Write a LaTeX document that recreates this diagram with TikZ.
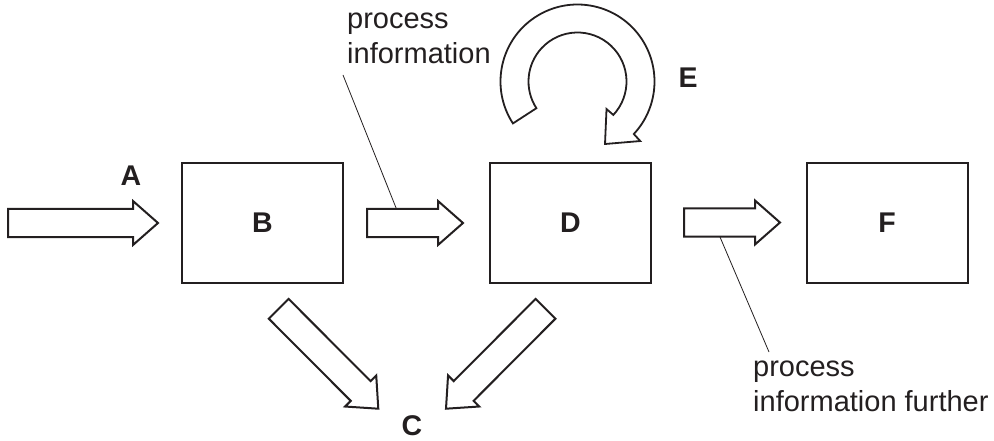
\documentclass[tikz,border=0pt]{standalone}
\usepackage{fontspec}
\setmainfont{Liberation Sans}
\usetikzlibrary{calc}
\definecolor{ink}{HTML}{231F20}
\tikzset{
  box/.style={draw=ink, line width=2pt, minimum width=161pt, minimum height=120pt,
    inner sep=0pt, font=\bfseries\fontsize{28.5}{34}\selectfont, text=ink},
  blk/.style={draw=ink, line width=2pt, fill=white, line join=miter},
  letter/.style={inner sep=0pt, font=\bfseries\fontsize{28.5}{34}\selectfont, text=ink},
  lbl/.style={inner sep=0pt, align=left, font=\fontsize{29}{34.7}\selectfont, text=ink},
  leader/.style={draw=ink, line width=0.8pt},
}
\newcommand\blockarrow[2]{%
  \coordinate (tmpb) at ($(#2)!25pt!(#1)$);
  \draw[blk] ($(#1)!14pt!90:(#2)$) -- ($(tmpb)!14pt!90:(#2)$) -- ($(tmpb)!22pt!90:(#2)$)
    -- (#2) -- ($(tmpb)!22pt!-90:(#2)$) -- ($(tmpb)!14pt!-90:(#2)$)
    -- ($(#1)!14pt!-90:(#2)$) -- cycle;}
\begin{document}
\begin{tikzpicture}[x=1pt,y=-1pt]
\useasboundingbox (0,0) rectangle (994,441);
% boxes
\node[box] (B) at (262.5,223) {B};
\node[box] (D) at (570.5,223) {D};
\node[box] (F) at (887,223) {F};
% letters
\node[letter] (A) at (131,176) {A};
\node[letter] (C) at (412,426) {C};
\node[letter] (E) at (688,77.5) {E};
% arrow end points
\coordinate (aT) at (8,223);     \coordinate (aH) at (158,223);
\coordinate (bdT) at (367,223);  \coordinate (bdH) at (463,223);
\coordinate (dfT) at (684,222.5);\coordinate (dfH) at (780,222.5);
\coordinate (bcT) at (278.7,308.8); \coordinate (bcH) at (378.3,408.7);
\coordinate (dcT) at (545.5,308.8); \coordinate (dcH) at (446,408.7);
\blockarrow{aT}{aH}
\blockarrow{bdT}{bdH}
\blockarrow{dfT}{dfH}
\blockarrow{bcT}{bcH}
\blockarrow{dcT}{dcH}
% circular arrow E
\coordinate (E0) at (577.5,81.5);
\coordinate (Etip) at (605,144);
\draw[blk, line width=1.8pt] ([shift={(147:77)}]E0) arc[start angle=147, end angle=403, radius=77]
  -- ([shift={(43.5:86.5)}]E0) -- (Etip) -- ([shift={(43.5:40)}]E0)
  -- ([shift={(43:49)}]E0) arc[start angle=403, end angle=147, radius=49] -- cycle;
% labels
\node[lbl, anchor=base west] (pi) at (347,63.3) {process\\information};
\node[lbl, anchor=base west] (pif) at (753,411) {process\\information further};
\coordinate (pi1) at (343,75);  \coordinate (pi2) at (396.5,209);
\coordinate (pif1) at (720,237); \coordinate (pif2) at (769,352);
\draw[leader] (pi1) -- (pi2);
\draw[leader] (pif1) -- (pif2);
\end{tikzpicture}
\end{document}
